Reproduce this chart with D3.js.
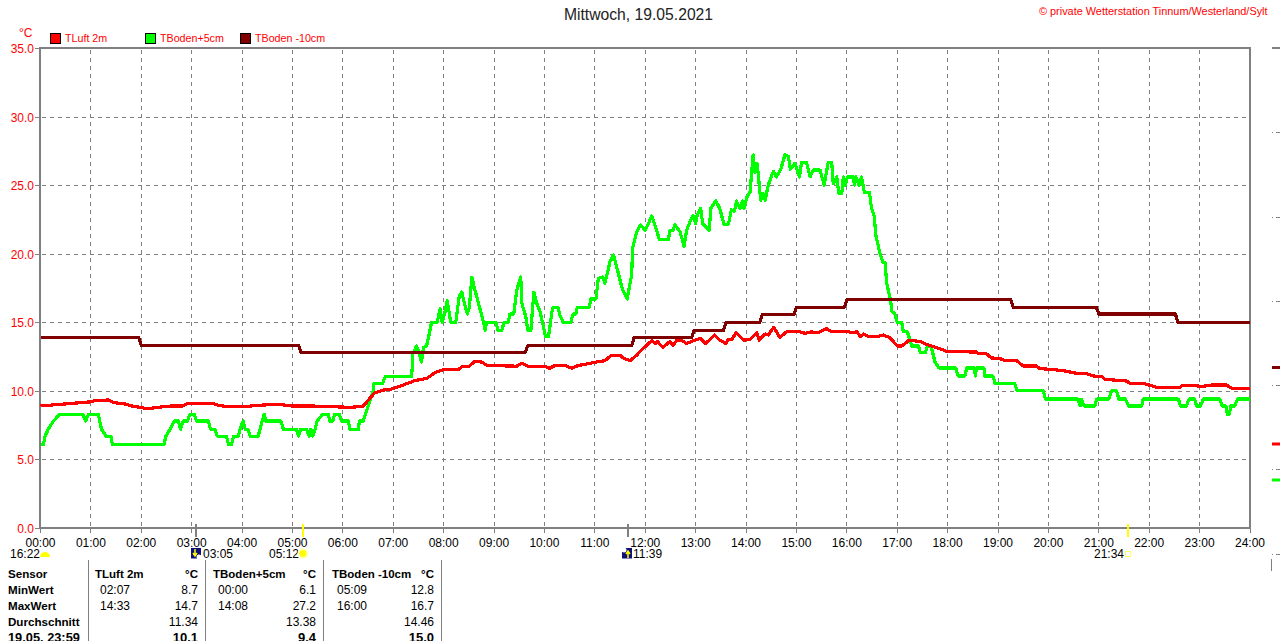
<!DOCTYPE html>
<html><head><meta charset="utf-8">
<script src="https://cdn.jsdelivr.net/npm/d3@7"></script>
<style>
html,body{margin:0;padding:0;background:#fff;overflow:hidden}
svg{display:block}
text{font-family:"Liberation Sans",Arial,sans-serif;font-size:12px}
</style></head><body><svg id="c" width="1280" height="641"></svg>
<script>
const title = "Mittwoch, 19.05.2021";
const credit = "private Wetterstation Tinnum/Westerland/Sylt";
const yTicks = [0,5,10,15,20,25,30,35];
const xTicks = d3.range(0,25);
const seriesNames = ["TLuft 2m","TBoden+5cm","TBoden -10cm"];
const seriesColors = ["#ff0000","#00ff00","#800000"];

const luftH = [0,1.0,1.02,1.08,1.35,1.44,1.68,1.81,1.97,2.12,2.34,2.6,2.83,2.93,3.4,3.5,3.69,4.09,4.42,4.75,4.98,5.35,5.61,6.14,6.4,6.5,6.63,6.8,6.93,7.2,7.43,7.66,7.83,7.99,8.29,8.36,8.49,8.62,8.75,8.87,9.45,9.55,9.68,10.01,10.1,10.21,10.41,10.54,10.67,10.9,11.03,11.2,11.33,11.5,11.58,11.7,11.83,11.93,12.13,12.2,12.24,12.35,12.49,12.55,12.63,12.72,12.82,12.92,13.09,13.2,13.37,13.48,13.6,13.65,13.72,13.8,13.95,14.08,14.21,14.26,14.38,14.44,14.55,14.67,14.8,15.07,15.17,15.3,15.43,15.59,15.7,15.9,16.0,16.1,16.2,16.27,16.33,16.43,16.59,16.72,16.85,17.0,17.09,17.24,17.45,17.58,17.91,17.97,18.57,18.62,18.77,18.87,19.04,19.14,19.37,19.5,19.76,19.83,20.1,20.3,20.56,20.76,20.89,21.06,21.12,21.55,21.62,21.88,22.15,22.61,22.66,22.94,23.0,23.1,23.24,23.53,23.63,23.75,24];
const luftV = [8.9,9.2,9.2,9.3,9.33,9.15,9.04,8.9,8.8,8.7,8.8,8.9,8.9,9.1,9.1,8.98,8.85,8.87,8.97,9.0,8.9,8.9,8.87,8.8,8.87,9.3,9.85,10.06,10.1,10.43,10.75,10.9,11.33,11.55,11.55,11.75,11.75,12.15,12.1,11.85,11.8,12.0,11.8,11.8,11.65,11.85,11.85,11.65,11.85,12.0,12.1,12.2,12.6,12.6,12.35,12.2,12.6,13.0,13.66,13.45,13.6,13.17,13.6,13.3,13.7,13.7,13.45,13.6,13.83,13.45,14.07,13.7,13.45,13.75,13.75,14.24,13.7,13.75,14.24,13.7,14.14,14.07,14.63,13.9,14.3,14.3,14.2,14.3,14.24,14.55,14.3,14.3,14.35,14.24,14.3,13.95,14.14,13.95,13.95,14.07,13.9,13.27,13.27,13.7,13.6,13.4,13.0,12.87,12.83,12.7,12.7,12.4,12.35,12.2,12.2,11.81,11.81,11.62,11.55,11.47,11.28,11.25,11.08,11.05,10.84,10.72,10.55,10.55,10.26,10.26,10.4,10.4,10.3,10.35,10.43,10.43,10.2,10.15,10.15];

const bodenH = [0,0.06,0.09,0.155,0.255,0.387,0.837,0.9,0.95,1.147,1.21,1.3,1.4,1.425,2.45,2.49,2.57,2.65,2.735,2.78,2.83,2.91,2.97,3.05,3.1,3.33,3.375,3.46,3.51,3.69,3.73,3.79,3.83,3.925,3.96,4.02,4.06,4.12,4.16,4.32,4.355,4.4,4.44,4.47,4.77,4.82,5.08,5.12,5.16,5.28,5.33,5.365,5.4,5.45,5.49,5.6,5.71,5.74,5.8,5.84,5.93,5.975,6.11,6.14,6.31,6.325,6.405,6.45,6.5,6.55,6.6,6.62,6.79,6.84,7.365,7.39,7.46,7.52,7.56,7.6,7.66,7.695,7.76,7.87,7.93,7.97,8.03,8.07,8.14,8.24,8.31,8.36,8.41,8.47,8.51,8.56,8.62,8.69,8.79,8.825,8.85,9.04,9.08,9.15,9.2,9.28,9.315,9.39,9.45,9.53,9.55,9.63,9.67,9.73,9.79,9.845,9.91,9.98,10.02,10.08,10.12,10.16,10.27,10.31,10.37,10.52,10.57,10.625,10.65,10.89,10.92,11.02,11.07,11.155,11.2,11.3,11.37,11.45,11.55,11.64,11.73,11.75,11.83,11.91,12.0,12.13,12.2,12.28,12.46,12.49,12.55,12.59,12.69,12.77,12.82,12.9,12.95,13.0,13.03,13.1,13.14,13.27,13.3,13.4,13.48,13.56,13.65,13.71,13.77,13.81,13.88,13.93,13.96,14.02,14.08,14.14,14.18,14.22,14.26,14.29,14.34,14.38,14.44,14.54,14.6,14.69,14.77,14.84,14.88,14.97,15.06,15.1,15.2,15.27,15.33,15.47,15.55,15.63,15.7,15.73,15.8,15.84,15.9,15.93,15.97,16.01,16.13,16.15,16.18,16.24,16.29,16.35,16.45,16.49,16.54,16.58,16.66,16.72,16.76,16.79,16.87,16.89,16.95,17.0,17.09,17.12,17.2,17.25,17.29,17.42,17.46,17.56,17.6,17.67,17.75,17.83,18.16,18.21,18.34,18.38,18.53,18.55,18.57,18.72,18.74,18.9,18.94,19.33,19.38,19.9,19.94,20.59,20.63,20.65,20.71,20.92,20.96,21.2,21.25,21.35,21.4,21.53,21.59,21.85,21.88,22.58,22.62,22.74,22.79,22.9,22.94,23.02,23.07,23.4,23.45,23.52,23.55,23.59,23.62,23.7,23.75,24];
const bodenV = [6.1,6.1,6.7,7.2,7.8,8.3,8.3,7.8,8.3,8.3,7.2,6.7,6.7,6.1,6.1,6.7,7.2,7.8,7.8,7.2,7.8,7.8,8.3,8.3,7.8,7.8,7.2,7.2,6.7,6.7,6.1,6.1,6.7,6.7,7.2,7.8,7.2,7.2,6.7,6.7,7.2,7.8,8.3,7.8,7.8,7.2,7.2,6.7,7.2,7.2,6.7,7.2,6.7,7.2,7.8,8.3,8.3,7.8,7.8,8.3,8.3,7.8,7.8,7.2,7.2,7.8,7.8,8.3,8.9,9.4,10.0,10.55,10.55,11.03,11.03,12.7,13.27,12.7,12.1,13.17,13.27,13.8,15.0,15.0,16.0,15.0,15.8,16.6,15.0,15.0,16.9,17.2,16.4,15.6,16.1,18.3,17.35,16.4,15.0,14.4,15.0,15.0,14.4,14.4,15.0,15.0,15.6,15.6,17.35,18.3,16.4,15.4,14.4,14.4,17.2,16.4,15.8,14.7,13.95,13.95,15.0,16.05,16.05,15.5,15.0,15.0,15.6,15.6,16.1,16.1,16.7,16.7,18.2,18.3,17.85,19.4,19.9,18.8,17.35,16.7,18.45,20.4,21.6,22.1,21.7,22.75,22.0,21.05,21.05,21.7,21.7,22.1,21.6,20.55,21.7,22.45,22.8,22.2,22.8,23.3,22.2,21.7,23.3,23.85,23.3,22.15,22.15,23.2,23.1,23.85,23.3,23.85,23.3,24.15,24.5,27.2,25.9,26.6,25.1,23.9,24.4,23.9,25.0,26.0,25.6,26.15,27.2,27.1,26.15,26.6,25.6,26.65,26.65,25.6,26.1,26.1,25.0,26.65,26.65,25.1,25.6,24.4,24.4,25.6,25.0,25.6,25.6,25.0,25.6,25.0,25.6,24.45,24.45,23.3,22.8,21.25,20.0,19.35,19.35,17.85,16.6,15.8,15.65,15.0,15.0,14.3,14.3,13.75,13.27,13.27,12.8,12.8,13.27,13.27,12.1,11.67,11.67,11.08,11.08,11.67,11.67,11.08,11.67,11.67,11.08,11.08,10.55,10.55,10.0,10.0,9.4,9.4,8.9,9.4,8.9,8.9,9.4,9.4,10.0,10.0,9.4,9.4,8.9,8.9,9.4,9.4,8.9,8.9,9.4,9.4,8.9,8.9,9.4,9.4,8.9,8.9,8.3,8.3,8.9,8.9,9.4,9.4];

const tiefH = [0,1.95,2.0,5.12,5.17,9.62,9.67,11.73,11.78,12.92,12.97,13.55,13.6,14.27,14.32,14.95,15.0,15.95,16.0,19.25,19.3,20.95,21.0,22.52,22.57,24];
const tiefV = [13.9,13.9,13.3,13.3,12.8,12.8,13.3,13.3,13.9,13.9,14.4,14.4,15.0,15.0,15.55,15.55,16.1,16.1,16.65,16.65,16.1,16.1,15.6,15.6,15.0,15.0];

const tableCols = [
 {name:"TLuft 2m",minT:"02:07",minV:"8.7",maxT:"14:33",maxV:"14.7",avg:"11.34",last:"10.1"},
 {name:"TBoden+5cm",minT:"00:00",minV:"6.1",maxT:"14:08",maxV:"27.2",avg:"13.38",last:"9.4"},
 {name:"TBoden -10cm",minT:"05:09",minV:"12.8",maxT:"16:00",maxV:"16.7",avg:"14.46",last:"15.0"}
];
const rowLabels = ["Sensor","MinWert","MaxWert","Durchschnitt","19.05. 23:59"];
const sunEvents = [
 {h:16+22/60,label:"16:22",kind:"moonset",tx:10,ix:45},
 {h:3+5/60,label:"03:05",kind:"down",tx:203,ix:196,tick:196},
 {h:5+12/60,label:"05:12",kind:"sun",tx:269,ix:302,tick:303},
 {h:11+39/60,label:"11:39",kind:"up",tx:633,ix:627,tick:628},
 {h:21+34/60,label:"21:34",kind:"sunset",tx:1094,ix:1128,tick:1128}
];

const svg = d3.select("#c");
const x = d3.scaleLinear().domain([0,24]).range([40.5,1250]);
const y = d3.scaleLinear().domain([0,35]).range([528,48]);
const gray = "#808080";
const gx = d => Math.floor(x(d))+.5;
const gy = d => Math.round(y(d))+.5;

// grid
const grid = svg.append("g").attr("stroke",gray).attr("stroke-width",1).attr("stroke-dasharray","4,4").attr("fill","none");
grid.selectAll(".gx").data(xTicks.slice(1,-1)).join("line")
 .attr("x1",gx).attr("x2",gx).attr("y1",50).attr("y2",527);
grid.selectAll(".gy").data(yTicks.slice(1,-1)).join("line")
 .attr("x1",42).attr("x2",1249).attr("y1",gy).attr("y2",gy);

// frame
const frame = svg.append("g").attr("stroke",gray).attr("stroke-width",2).attr("fill","none");
frame.append("rect").attr("x",40).attr("y",48).attr("width",1210).attr("height",480);

// hour ticks
svg.append("g").attr("stroke",gray).selectAll("line").data(xTicks).join("line")
 .attr("x1",gx).attr("x2",gx).attr("y1",528).attr("y2",533);

// y tick marks & labels
const yg = svg.append("g");
yg.selectAll("line").data(yTicks).join("line").attr("stroke",gray)
 .attr("x1",35).attr("x2",40).attr("y1",gy).attr("y2",gy);
yg.selectAll("text").data(yTicks).join("text")
 .attr("x",34).attr("y",d=>y(d)+5).attr("text-anchor","end").attr("fill","#ff0000")
 .text(d=>d.toFixed(1));
svg.append("text").attr("x",19).attr("y",37).attr("fill","#ff0000").text("°C");

// x labels
svg.append("g").selectAll("text").data(xTicks).join("text")
 .attr("x",d=>x(d)).attr("y",547).attr("text-anchor","middle").attr("fill","#000")
 .text(d=>String(d).padStart(2,"0")+":00");

// series
const lineGen = d3.line().x(d=>x(d[0])).y(d=>y(d[1]));
const hs = [luftH,bodenH,tiefH], vs=[luftV,bodenV,tiefV];
[1,0,2].forEach(i=>{
 svg.append("path").attr("d",lineGen(d3.zip(hs[i],vs[i])))
  .attr("fill","none").attr("stroke",seriesColors[i]).attr("stroke-width",3.2)
  .attr("stroke-linejoin","round").attr("shape-rendering","crispEdges");
});

// legend
const lx=[50,145,240];
seriesNames.forEach((n,i)=>{
 svg.append("rect").attr("x",lx[i]+.5).attr("y",33.5).attr("width",10).attr("height",10)
  .attr("fill",seriesColors[i]).attr("stroke","#000");
 svg.append("text").attr("x",lx[i]+15).attr("y",42).attr("fill","#ff0000").style("font-size","10.7px").text(n);
});

// title + credit
svg.append("text").attr("x",638.5).attr("y",20).attr("text-anchor","middle").attr("fill","#222").style("font-size","15.7px").text(title);
svg.append("text").attr("x",1039).attr("y",15).attr("fill","#ff0000").style("font-size","10.9px").text("© "+credit);

// right-edge fragments of the next panel
const rightY = [132,217,301,385,469,554];
svg.append("g").attr("stroke",gray).attr("stroke-dasharray","1,3,4").selectAll("line").data(rightY).join("line")
 .attr("x1",1272).attr("x2",1280).attr("y1",d=>d+.5).attr("y2",d=>d+.5);
svg.append("line").attr("x1",1272).attr("x2",1280).attr("y1",48).attr("y2",48).attr("stroke",gray).attr("stroke-width",2);
svg.append("line").attr("x1",1271.5).attr("x2",1271.5).attr("y1",559).attr("y2",571).attr("stroke",gray);
const rightMarks=[[367.5,2],[444,0],[480,1]];
rightMarks.forEach(([yy,i])=>svg.append("line").attr("x1",1272).attr("x2",1280).attr("y1",yy).attr("y2",yy).attr("stroke",seriesColors[i]).attr("stroke-width",3));

// sun / moon events
sunEvents.forEach(e=>{
 svg.append("text").attr("x",e.tx).attr("y",558).attr("fill","#000").text(e.label);
 if(e.kind==="down"||e.kind==="up"){
  svg.append("line").attr("x1",e.tick).attr("x2",e.tick).attr("y1",524).attr("y2",537).attr("stroke",gray).attr("stroke-width",2);
  svg.append("rect").attr("x",e.ix-5).attr("y",548).attr("width",10).attr("height",10.5).attr("fill","#10107a");
  svg.append("circle").attr("cx",e.ix+(e.kind==="down"?3:-3)).attr("cy",e.kind==="down"?557:550).attr("r",2.5).attr("fill","#fff");
  svg.append("path").attr("d",e.kind==="down"?`M${e.ix-1},549V555M${e.ix-3},553L${e.ix-1},556L${e.ix+1},553`:`M${e.ix+1},558V552M${e.ix-1},554L${e.ix+1},551L${e.ix+3},554`).attr("stroke","#ffff00").attr("stroke-width",1.5).attr("fill","none");
 }
 if(e.kind==="sun"||e.kind==="sunset"){
  svg.append("line").attr("x1",e.tick).attr("x2",e.tick).attr("y1",524).attr("y2",537).attr("stroke","#ffff00").attr("stroke-width",2);
 }
 if(e.kind==="sun"){
  svg.append("circle").attr("cx",e.ix+1).attr("cy",553.5).attr("r",5.5).attr("fill","#ffffc8");
  svg.append("circle").attr("cx",e.ix+1).attr("cy",553.5).attr("r",3.5).attr("fill","#ffff00");
 }
 if(e.kind==="sunset"){
  svg.append("rect").attr("x",e.ix-2.5).attr("y",551.5).attr("width",5).attr("height",5).attr("fill","none").attr("stroke","#ffff66");
 }
 if(e.kind==="moonset"){
  svg.append("path").attr("d",`M${e.ix-5},557 a5,5 0 0 1 10,0 z`).attr("fill","#ffff00");
 }
});

// table
const rowY=[578,594,610,626,642];
const seps=[88,205,323,441];
svg.append("g").attr("stroke",gray).selectAll("line").data(seps).join("line")
 .attr("x1",d=>d+.5).attr("x2",d=>d+.5).attr("y1",560).attr("y2",641);
rowLabels.forEach((t,i)=>svg.append("text").attr("x",8).attr("y",rowY[i]).style("font-weight","bold").style("font-size",i===4?"12.8px":"11.6px").attr("fill","#000").text(t));
const colX=[94,212,331];
tableCols.forEach((c,i)=>{
 const l=colX[i], r=seps[i+1]-7, t=l+6;
 const g=svg.append("g").attr("fill","#000");
 g.append("text").attr("x",l+1).attr("y",rowY[0]).style("font-weight","bold").style("font-size","11.5px").text(c.name);
 g.append("text").attr("x",r).attr("y",rowY[0]).attr("text-anchor","end").style("font-weight","bold").style("font-size","11.5px").text("°C");
 g.append("text").attr("x",t).attr("y",rowY[1]).text(c.minT);
 g.append("text").attr("x",r).attr("y",rowY[1]).attr("text-anchor","end").text(c.minV);
 g.append("text").attr("x",t).attr("y",rowY[2]).text(c.maxT);
 g.append("text").attr("x",r).attr("y",rowY[2]).attr("text-anchor","end").text(c.maxV);
 g.append("text").attr("x",r).attr("y",rowY[3]).attr("text-anchor","end").text(c.avg);
 g.append("text").attr("x",r).attr("y",rowY[4]).attr("text-anchor","end").style("font-weight","bold").style("font-size","13px").text(c.last);
});
</script></body></html>
